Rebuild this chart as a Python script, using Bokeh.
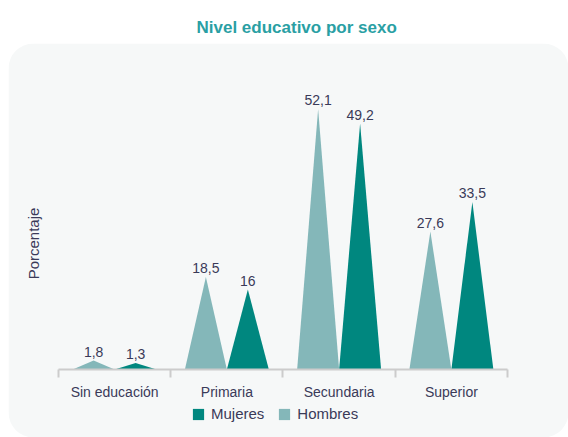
from bokeh.plotting import figure
from bokeh.models import (Range1d, FixedTicker, LinearAxis, Legend, LegendItem,
                          BoxAnnotation, Label, ColumnDataSource)
from bokeh.core.properties import value
from bokeh.embed import file_html
from bokeh.resources import INLINE

categories = ["Sin educación", "Primaria", "Secundaria", "Superior"]
hombres = [1.8, 18.5, 52.1, 27.6]
mujeres = [1.3, 16, 49.2, 33.5]
title_text = "Nivel educativo por sexo"
y_label = "Porcentaje"

FONT = "Liberation Sans"
C_H = "#84b7b9"
C_M = "#00877f"
TXT = "#3a3a58"
W = 0.374

def fmt(v):
    return ("%g" % v).replace(".", ",")

n = len(categories)
p = figure(output_backend="svg", toolbar_location=None,
           width=568, height=437,
           min_border_left=8, min_border_right=0,
           min_border_top=43, min_border_bottom=0,
           x_range=Range1d(-0.4454, n + 0.5434), y_range=Range1d(-13.6, 65.2),
           x_axis_location=None, y_axis_location=None)
p.border_fill_color = "white"
p.background_fill_color = "white"
p.outline_line_color = None
p.grid.visible = False

panel = BoxAnnotation(fill_color="#f6f8f8", fill_alpha=1, line_color=None,
                      border_radius=25, level="underlay")
p.add_layout(panel)

hx, hy, mx, my = [], [], [], []
for i, (h, m) in enumerate(zip(hombres, mujeres)):
    c = i + 0.5
    hx.append([c - W, c - W / 2, c]); hy.append([0, h, 0])
    mx.append([c, c + W / 2, c + W]); my.append([0, m, 0])

rh = p.patches(hx, hy, fill_color=C_H, line_color=None)
rm = p.patches(mx, my, fill_color=C_M, line_color=None)

lab = ColumnDataSource(dict(
    x=[i + 0.5 - W / 2 for i in range(n)] + [i + 0.5 + W / 2 for i in range(n)],
    y=hombres + mujeres,
    t=[fmt(v) for v in hombres + mujeres]))
p.text(x="x", y="y", text="t", source=lab, text_align="center", text_baseline="bottom",
       y_offset=-4, text_font=value(FONT), text_font_size="14px", text_color=TXT)

xa = LinearAxis(fixed_location=0, bounds=(0, n),
                ticker=FixedTicker(ticks=[i + 0.5 for i in range(n)],
                                   minor_ticks=list(range(n + 1))),
                major_label_overrides={i + 0.5: c for i, c in enumerate(categories)})
xa.axis_line_color = "#cccccc"
xa.axis_line_width = 2
xa.major_tick_line_color = None
xa.major_tick_out = 0
xa.major_tick_in = 0
xa.minor_tick_line_color = "#cccccc"
xa.minor_tick_line_width = 2
xa.minor_tick_out = 8
xa.minor_tick_in = 0
xa.major_label_standoff = 6
xa.major_label_text_font = FONT
xa.major_label_text_font_size = "14px"
xa.major_label_text_color = TXT
p.add_layout(xa, "below")

leg = Legend(items=[LegendItem(label="Mujeres", renderers=[rm]),
                    LegendItem(label="Hombres", renderers=[rh])],
             orientation="horizontal", location=(183, 15),
             glyph_width=14, glyph_height=14, label_standoff=6, spacing=13,
             padding=0, margin=0, border_line_color=None, background_fill_alpha=0,
             label_text_font=FONT, label_text_font_size="15px", label_text_color=TXT)
p.add_layout(leg)

p.title.text = title_text
p.title.align = "left"
p.title.offset = 188
p.title.standoff = 13
p.title.text_font = FONT
p.title.text_font_size = "17px"
p.title.text_font_style = "bold"
p.title.text_color = "#2a9fa4"

yl = Label(x=-0.2227, y=25.2, text=y_label,
           angle=90, angle_units="deg", text_align="center", text_baseline="middle",
           text_font=FONT, text_font_size="15px", text_color=TXT)
p.add_layout(yl)

open("out.html", "w").write(file_html(p, INLINE))
